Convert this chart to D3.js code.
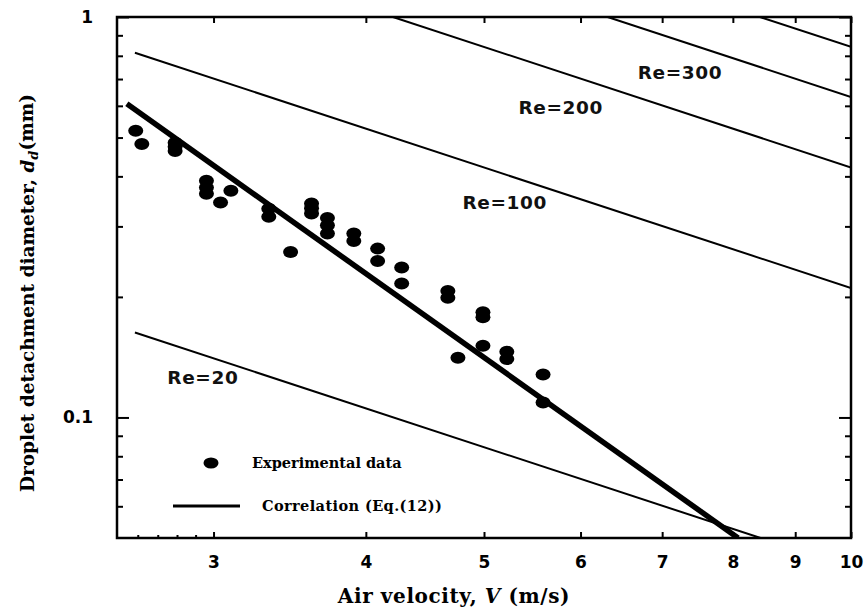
<!DOCTYPE html>
<html>
<head>
<meta charset="utf-8">
<script src="https://cdn.jsdelivr.net/npm/d3@7"></script>
<style>
  html, body { margin: 0; padding: 0; background: #fff; }
  svg { display: block; }
</style>
</head>
<body>
<svg id="chart" width="867" height="610"></svg>
<script>
// Measured droplet detachment diameters (mm) against air velocity (m/s)
const velocity = [2.59, 2.62, 2.79, 2.79, 2.79, 2.96, 2.96, 2.96, 3.04, 3.10,
                  3.33, 3.33, 3.47, 3.61, 3.61, 3.61, 3.72, 3.72, 3.72, 3.91,
                  3.91, 4.09, 4.09, 4.28, 4.28, 4.67, 4.67, 4.76, 4.99, 4.99,
                  4.99, 5.22, 5.22, 5.59, 5.59];
const diameter = [0.520, 0.482, 0.485, 0.474, 0.463, 0.390, 0.375, 0.362, 0.344, 0.368,
                  0.332, 0.317, 0.259, 0.342, 0.333, 0.323, 0.315, 0.302, 0.288, 0.288,
                  0.276, 0.264, 0.246, 0.237, 0.216, 0.207, 0.199, 0.141, 0.183, 0.178,
                  0.151, 0.146, 0.140, 0.128, 0.109];

// Correlation (Eq.(12)): straight on log-log axes, given by its end points
const corrV = [2.547, 8.08];
const corrD = [0.607, 0.05];

// Constant Reynolds-number lines (end points, V in m/s, d in mm)
const reValues = [20, 100, 200, 300, 400];
const reStartV = [2.586, 2.586, 4.21, 6.315, 8.42];
const reStartD = [0.163, 0.814, 1.0, 1.0, 1.0];
const reEndV   = [8.43, 10, 10, 10, 10];
const reEndD   = [0.05, 0.2105, 0.421, 0.6315, 0.842];
const reLabels = ["Re=20", "Re=100", "Re=200", "Re=300", ""];
const reLabelV = [2.94, 5.20, 5.78, 7.24, 0];
const reLabelD = [0.1258, 0.344, 0.5965, 0.729, 0];

// Axis ticks
const xTicks = [3, 4, 5, 6, 7, 8, 9, 10];
const xTickLabels = ["3", "4", "5", "6", "7", "8", "9", "10"];
const xMinor = [2.6, 2.7, 2.8, 2.9];
const yMajor = [0.1, 1];
const yMajorLabels = ["0.1", "1"];
const yMinor = [0.06, 0.07, 0.08, 0.09, 0.2, 0.3, 0.4, 0.5, 0.6, 0.7, 0.8, 0.9];

const legendLabels = ["Experimental data", "Correlation (Eq.(12))"];

const svg = d3.select("#chart");
const L = 117, R = 851, T = 17, B = 538;

const x = d3.scaleLog().domain([2.5, 10]).range([L, R]);
const y = d3.scaleLog().domain([0.05, 1]).range([B, T]);

const sans = "'DejaVu Sans', 'Liberation Sans', Arial, sans-serif";
const serif = "'DejaVu Serif', 'Liberation Serif', serif";

svg.append("defs").append("clipPath").attr("id", "plotClip")
  .append("rect").attr("x", L).attr("y", T).attr("width", R - L).attr("height", B - T);

const plot = svg.append("g").attr("clip-path", "url(#plotClip)");

const line = d3.line().x(d => x(d[0])).y(d => y(d[1]));

// Reynolds-number lines
plot.selectAll("path.re")
  .data(reValues.map((r, i) => [[reStartV[i], reStartD[i]], [reEndV[i], reEndD[i]]]))
  .join("path")
  .attr("class", "re")
  .attr("d", line)
  .attr("fill", "none")
  .attr("stroke", "#000")
  .attr("stroke-width", 2);

// Correlation line
plot.append("path")
  .attr("d", line(corrV.map((v, i) => [v, corrD[i]])))
  .attr("fill", "none")
  .attr("stroke", "#000")
  .attr("stroke-width", 5.5);

// Experimental points
plot.selectAll("ellipse.pt")
  .data(velocity.map((v, i) => [v, diameter[i]]))
  .join("ellipse")
  .attr("class", "pt")
  .attr("cx", d => x(d[0]))
  .attr("cy", d => y(d[1]))
  .attr("rx", 7.5)
  .attr("ry", 6)
  .attr("fill", "#000");

// Re labels
svg.selectAll("text.relab")
  .data(reLabels.map((t, i) => ({ t, v: reLabelV[i], d: reLabelD[i] })).filter(o => o.t))
  .join("text")
  .attr("class", "relab")
  .attr("x", o => x(o.v))
  .attr("y", o => y(o.d))
  .attr("dy", "0.36em")
  .attr("text-anchor", "middle")
  .attr("font-family", sans)
  .attr("font-weight", "bold")
  .attr("font-size", 18.5)
  .attr("letter-spacing", 0.6)
  .attr("fill", "#111")
  .text(o => o.t);

// Axes (ticks point inward)
const axisG = svg.append("g");

function styleAxis(g) {
  g.select(".domain").remove();
  g.selectAll("line").attr("stroke", "#000").attr("stroke-width", 2);
  g.selectAll("text").attr("font-family", sans).attr("font-weight", "bold")
    .attr("font-size", 17).attr("fill", "#000");
}

axisG.append("g").attr("transform", `translate(0,${B})`)
  .call(d3.axisBottom(x).tickValues(xTicks).tickFormat((d, i) => xTickLabels[i]).tickSize(-6).tickPadding(18))
  .call(styleAxis);
axisG.append("g").attr("transform", `translate(0,${B})`)
  .call(d3.axisBottom(x).tickValues(xMinor).tickFormat("").tickSize(-3))
  .call(styleAxis);
axisG.append("g").attr("transform", `translate(0,${T})`)
  .call(d3.axisTop(x).tickValues(xTicks).tickFormat("").tickSize(-6))
  .call(styleAxis);

axisG.append("g").attr("transform", `translate(${L},0)`)
  .call(d3.axisLeft(y).tickValues(yMajor).tickFormat((d, i) => yMajorLabels[i]).tickSize(-12).tickPadding(24))
  .call(styleAxis);
axisG.append("g").attr("transform", `translate(${L},0)`)
  .call(d3.axisLeft(y).tickValues(yMinor).tickFormat("").tickSize(-6))
  .call(styleAxis);
axisG.append("g").attr("transform", `translate(${R},0)`)
  .call(d3.axisRight(y).tickValues(yMajor).tickFormat("").tickSize(-12))
  .call(styleAxis);
axisG.append("g").attr("transform", `translate(${R},0)`)
  .call(d3.axisRight(y).tickValues(yMinor).tickFormat("").tickSize(-6))
  .call(styleAxis);

// Frame
svg.append("rect")
  .attr("x", L).attr("y", T).attr("width", R - L).attr("height", B - T)
  .attr("fill", "none").attr("stroke", "#000").attr("stroke-width", 2.5);

// Legend
const leg = svg.append("g");
leg.append("ellipse").attr("cx", 211).attr("cy", 463).attr("rx", 7.5).attr("ry", 5.5).attr("fill", "#000");
leg.append("line").attr("x1", 173).attr("x2", 240).attr("y1", 506).attr("y2", 506)
  .attr("stroke", "#000").attr("stroke-width", 3);
leg.selectAll("text")
  .data(legendLabels)
  .join("text")
  .attr("x", (d, i) => i === 0 ? 252 : 262)
  .attr("y", (d, i) => i === 0 ? 463 : 506)
  .attr("dy", "0.32em")
  .attr("font-family", serif)
  .attr("font-weight", "bold")
  .attr("font-size", 14.5)
  .attr("letter-spacing", (d, i) => i === 0 ? 0 : 0.4)
  .attr("fill", "#000")
  .text(d => d);

// Axis titles
const xt = svg.append("text")
  .attr("x", 454).attr("y", 597).attr("dy", "0.32em")
  .attr("text-anchor", "middle")
  .attr("font-family", serif).attr("font-weight", "bold").attr("font-size", 20)
  .attr("letter-spacing", 0.6)
  .attr("fill", "#000");
xt.append("tspan").text("Air velocity, ");
xt.append("tspan").attr("font-style", "italic").text("V");
xt.append("tspan").text(" (m/s)");

const yt = svg.append("text")
  .attr("transform", "translate(28,293) rotate(-90)")
  .attr("dy", "0.32em")
  .attr("text-anchor", "middle")
  .attr("font-family", serif).attr("font-weight", "bold").attr("font-size", 18.5)
  .attr("fill", "#000");
yt.append("tspan").text("Droplet detachment diameter, ");
yt.append("tspan").attr("font-style", "italic").text("d");
yt.append("tspan").attr("font-style", "italic").attr("font-size", 13).attr("dy", "0.35em").text("d");
yt.append("tspan").attr("dy", "-0.27em").text("(mm)");
</script>
</body>
</html>
